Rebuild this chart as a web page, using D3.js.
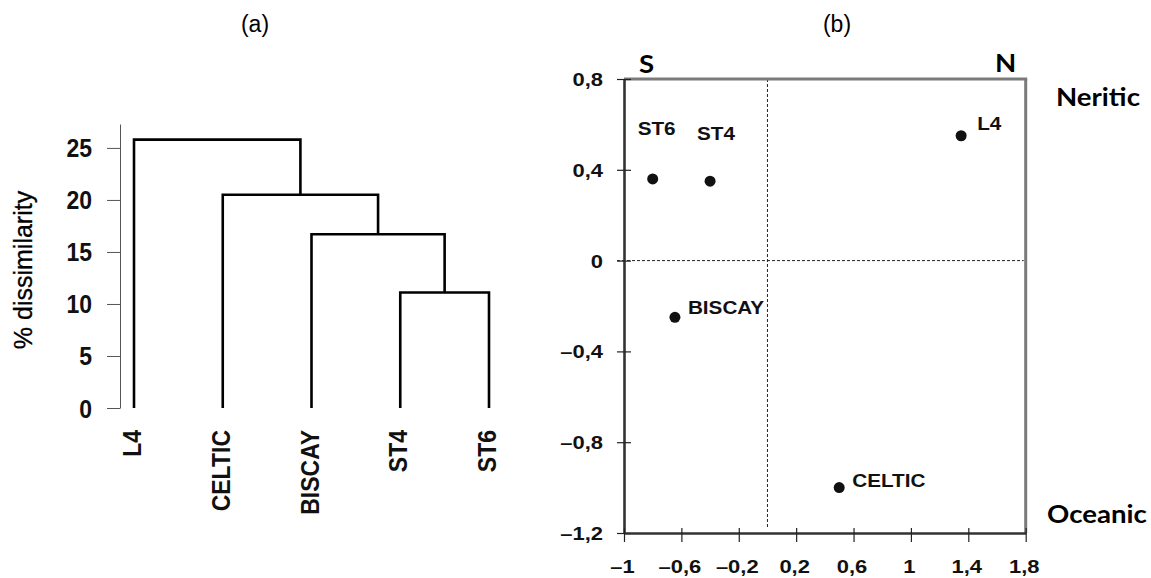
<!DOCTYPE html>
<html><head><meta charset="utf-8">
<script src="https://cdn.jsdelivr.net/npm/d3@7"></script>
<style>body{margin:0;background:#fff} svg{display:block}</style>
</head><body><svg id="chart" width="1151" height="578"></svg>
<script>
// ---------- Panel (a): dendrogram data ----------
const leaves = ["L4", "CELTIC", "BISCAY", "ST4", "ST6"];
const mergeName = ["M1", "M2", "M3", "M4"];
const mergeLeft = ["ST4", "BISCAY", "CELTIC", "L4"];
const mergeRight = ["ST6", "M1", "M2", "M3"];
const mergeHeight = [11.1, 16.7, 20.5, 25.8];
const dendroTicks = [0, 5, 10, 15, 20, 25];

// ---------- Panel (b): ordination data ----------
const sites = ["ST6", "ST4", "L4", "BISCAY", "CELTIC"];
const axis1 = [-0.80, -0.40, 1.35, -0.645, 0.50];
const axis2 = [0.36, 0.35, 0.55, -0.25, -1.00];
const xTicks = [-1, -0.6, -0.2, 0.2, 0.6, 1, 1.4, 1.8];
const yTicks = [-1.2, -0.8, -0.4, 0, 0.4, 0.8];

const fmt = v => (v < 0 ? "\u2013" : "") + String(+Math.abs(v).toFixed(1)).replace(".", ",");

const svg = d3.select("#chart");
const ARIAL = "'Liberation Sans', Arial, Helvetica, sans-serif";

// ================= Panel (a) =================
const gA = svg.append("g");
const yA = d3.scaleLinear().domain([0, 27.3]).range([408, 124]);
const xA = d3.scalePoint().domain(leaves).range([134, 489]);

gA.append("text").attr("x", 255).attr("y", 32).attr("text-anchor", "middle")
  .attr("font-family", ARIAL).attr("font-size", 23).text("(a)");

const axA = gA.append("g").attr("transform", "translate(120,0)")
  .call(d3.axisLeft(yA).tickValues(dendroTicks).tickSize(13).tickSizeOuter(0));
axA.select(".domain").attr("stroke", "#555").attr("stroke-width", 1);
axA.selectAll(".tick line").attr("stroke", "#555").attr("stroke-width", 1);
axA.selectAll(".tick text")
  .attr("x", 0).attr("dy", "0.36em")
  .attr("transform", "translate(-28,0) scale(0.92,1)")
  .attr("font-family", ARIAL).attr("font-size", 25).attr("font-weight", "bold")
  .attr("fill", "#111").attr("text-anchor", "end");

gA.append("text")
  .attr("transform", "translate(32,270) rotate(-90)")
  .attr("text-anchor", "middle").attr("font-family", ARIAL).attr("font-size", 25)
  .attr("fill", "#000").attr("stroke", "#000").attr("stroke-width", 0.3)
  .text("% dissimilarity");

// build node positions
const nodes = {};
leaves.forEach(n => nodes[n] = { x: xA(n), h: 0 });
mergeName.forEach((n, i) => {
  const L = nodes[mergeLeft[i]], R = nodes[mergeRight[i]];
  nodes[n] = { x: (L.x + R.x) / 2, h: mergeHeight[i], L, R };
});
mergeName.forEach(n => {
  const nd = nodes[n];
  const p = d3.path();
  p.moveTo(nd.L.x, yA(nd.L.h));
  p.lineTo(nd.L.x, yA(nd.h));
  p.lineTo(nd.R.x, yA(nd.h));
  p.lineTo(nd.R.x, yA(nd.R.h));
  gA.append("path").attr("d", p.toString()).attr("fill", "none")
    .attr("stroke", "#000").attr("stroke-width", 2.6);
});

gA.selectAll(".leaf").data(leaves).join("text")
  .attr("transform", d => `translate(${xA(d)},430) rotate(-90) scale(0.92,1)`)
  .attr("dy", "0.28em").attr("text-anchor", "end")
  .attr("font-family", ARIAL).attr("font-size", 25).attr("font-weight", "bold")
  .attr("fill", "#111").text(d => d);

// ================= Panel (b) =================
const gB = svg.append("g");
const xB = d3.scaleLinear().domain([-1, 1.8]).range([624, 1025.7]);
const yB = d3.scaleLinear().domain([-1.2, 0.8]).range([533, 79]);
const SX = "scale(1.15,1)";
const SXT = "scale(1.22,1)";

gB.append("text").attr("x", 837).attr("y", 32).attr("text-anchor", "middle")
  .attr("font-family", ARIAL).attr("font-size", 23).text("(b)");

// dashed reference lines
gB.append("line").attr("x1", xB(0)).attr("x2", xB(0)).attr("y1", yB(0.8)).attr("y2", 528)
  .attr("stroke", "#222").attr("stroke-width", 1).attr("stroke-dasharray", "3,2");
gB.append("line").attr("x1", 617).attr("x2", xB(1.8) - 2).attr("y1", yB(0)).attr("y2", yB(0))
  .attr("stroke", "#222").attr("stroke-width", 1).attr("stroke-dasharray", "3,2");

// top & right grey border
gB.append("line").attr("x1", xB(-1)).attr("x2", xB(1.8) + 1.5).attr("y1", yB(0.8)).attr("y2", yB(0.8))
  .attr("stroke", "#7a7a7a").attr("stroke-width", 3);
gB.append("line").attr("x1", xB(1.8)).attr("x2", xB(1.8)).attr("y1", yB(0.8)).attr("y2", yB(-1.2))
  .attr("stroke", "#7a7a7a").attr("stroke-width", 3);

// axes
const axBL = gB.append("g").attr("transform", `translate(${xB(-1)},0)`)
  .call(d3.axisLeft(yB).tickValues(yTicks).tickFormat(fmt).tickSizeOuter(0));
axBL.select(".domain").attr("stroke", "#333").attr("stroke-width", 2.6);
axBL.selectAll(".tick line").attr("x1", -7).attr("x2", 7).attr("stroke", "#222").attr("stroke-width", 1.2);
axBL.selectAll(".tick text")
  .attr("x", 0).attr("dy", "0.36em").attr("transform", `translate(-21,0) ${SXT}`)
  .attr("text-anchor", "end").attr("font-family", ARIAL).attr("font-size", 18)
  .attr("font-weight", "bold").attr("fill", "#111");

const axBB = gB.append("g").attr("transform", `translate(0,${yB(-1.2)})`)
  .call(d3.axisBottom(xB).tickValues(xTicks).tickFormat(fmt).tickSizeOuter(0));
axBB.select(".domain").attr("stroke", "#333").attr("stroke-width", 2.6);
axBB.selectAll(".tick line").attr("y1", -5).attr("y2", 9).attr("stroke", "#222").attr("stroke-width", 1.2);
axBB.selectAll(".tick text")
  .attr("y", 0).attr("dy", 0).attr("transform", `translate(-2,40) ${SXT}`)
  .attr("text-anchor", "middle").attr("font-family", ARIAL).attr("font-size", 18)
  .attr("font-weight", "bold").attr("fill", "#111");

// points
const pts = sites.map((s, i) => ({ s, x: axis1[i], y: axis2[i] }));
gB.selectAll(".pt").data(pts).join("circle")
  .attr("cx", d => xB(d.x)).attr("cy", d => yB(d.y)).attr("r", 5.5).attr("fill", "#111");

const labelOffset = { ST6: [-15, -44], ST4: [-13, -41], L4: [16, -6], BISCAY: [13, -3], CELTIC: [13, -1] };
gB.selectAll(".lbl").data(pts).join("text")
  .attr("transform", d => `translate(${xB(d.x) + labelOffset[d.s][0]},${yB(d.y) + labelOffset[d.s][1]}) ${SX}`)
  .attr("font-family", ARIAL).attr("font-size", 18).attr("font-weight", "bold")
  .attr("fill", "#111").text(d => d.s);

// orientation labels
const LATO = "Lato, 'Open Sans', sans-serif";
[["S", 639, 73], ["N", 995, 72], ["Neritic", 1056, 106], ["Oceanic", 1047, 523]].forEach(([t, x, y]) => {
  gB.append("text").attr("transform", `translate(${x},${y}) ${SX}`)
    .attr("font-family", LATO).attr("font-size", 24).attr("font-weight", "bold")
    .attr("fill", "#000").text(t);
});
</script>
</body></html>
